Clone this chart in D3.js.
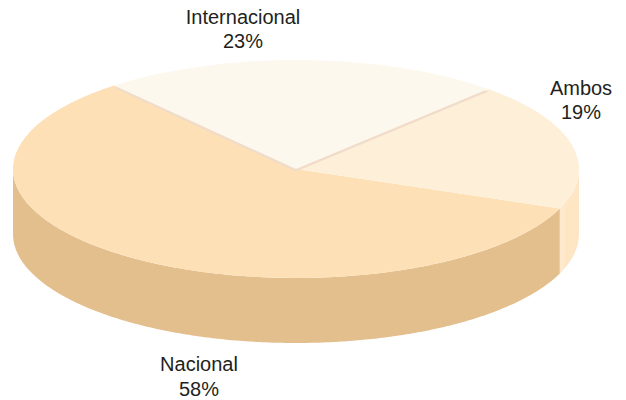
<!DOCTYPE html>
<html>
<head>
<meta charset="utf-8">
<script src="https://cdn.jsdelivr.net/npm/d3@7"></script>
<style>
html, body { margin: 0; background: #fff; }
text { font-family: "Liberation Sans", Arial, sans-serif; font-size: 20px; fill: #231f20; text-anchor: middle; }
</style>
</head>
<body>
<div id="root"></div>
<script>
const categories = ['Internacional', 'Ambos', 'Nacional']
const shares = [23, 19, 58]
const topColors = ['#fdf8ee', '#feefd9', '#fde0b5']
const sideColors = ['#f0dcc8', '#fee6c5', '#e3bf8d']

const width = 626
const height = 400
const cx = 296
const cy = 169
const rx = 283
const ry = 109
const depth = 65

// slices run clockwise from the Nacional / Internacional cut
const start = -40 * Math.PI / 180
const pie = d3.pie().sort(null).startAngle(start).endAngle(start + 2 * Math.PI)
const slices = pie(shares)

const svg = d3.select('#root').append('svg')
    .attr('width', width)
    .attr('height', height)

const rimX = a => cx + rx * Math.sin(a)
const rimY = a => cy - ry * Math.cos(a)

// wall of a slice, only where the rim faces the viewer (90deg to 270deg)
const wallPath = (a0, a1) => {
    const from = Math.max(a0, Math.PI / 2)
    const to = Math.min(a1, 3 * Math.PI / 2)
    const angles = d3.range(from, to, 0.01).concat([to])
    const line = d3.line().x(rimX)
    const top = line.y(rimY)(angles)
    const bottom = line.y(a => rimY(a) + depth)(angles.slice().reverse())
    return top + 'L' + bottom.slice(1) + 'Z'
}

svg.append('g').selectAll('path')
    .data(slices.filter(d => d.endAngle > Math.PI / 2))
    .enter().append('path')
    .attr('d', d => wallPath(d.startAngle, d.endAngle))
    .attr('fill', d => sideColors[d.index])

// lighter strip where the Ambos wall meets the Nacional wall
const cut = slices[1].endAngle
svg.append('path')
    .attr('d', wallPath(cut - 0.05, cut))
    .attr('fill', '#fee9cd')

const arc = d3.arc().innerRadius(0).outerRadius(rx)

const face = svg.append('g')
    .attr('transform', `translate(${cx},${cy}) scale(1,${ry / rx})`)

// Nacional first so the raised Internacional edge sits over it
face.selectAll('path')
    .data([slices[2], slices[1]])
    .enter().append('path')
    .attr('d', arc)
    .attr('fill', d => topColors[d.index])

// cut face under the Internacional slice
face.append('path')
    .attr('d', arc(slices[0]))
    .attr('fill', sideColors[0])
    .attr('transform', `translate(0,${2.5 * rx / ry})`)

face.append('path')
    .attr('d', arc(slices[0]))
    .attr('fill', topColors[0])

const labelSpots = [[243, 24, 48], [581, 95, 119], [199, 371, 396]]

const labels = svg.append('g').selectAll('g')
    .data(categories)
    .enter().append('g')

labels.append('text')
    .attr('x', (d, i) => labelSpots[i][0])
    .attr('y', (d, i) => labelSpots[i][1])
    .text(d => d)

labels.append('text')
    .attr('x', (d, i) => labelSpots[i][0])
    .attr('y', (d, i) => labelSpots[i][2])
    .text((d, i) => shares[i] + '%')
</script>
</body>
</html>
